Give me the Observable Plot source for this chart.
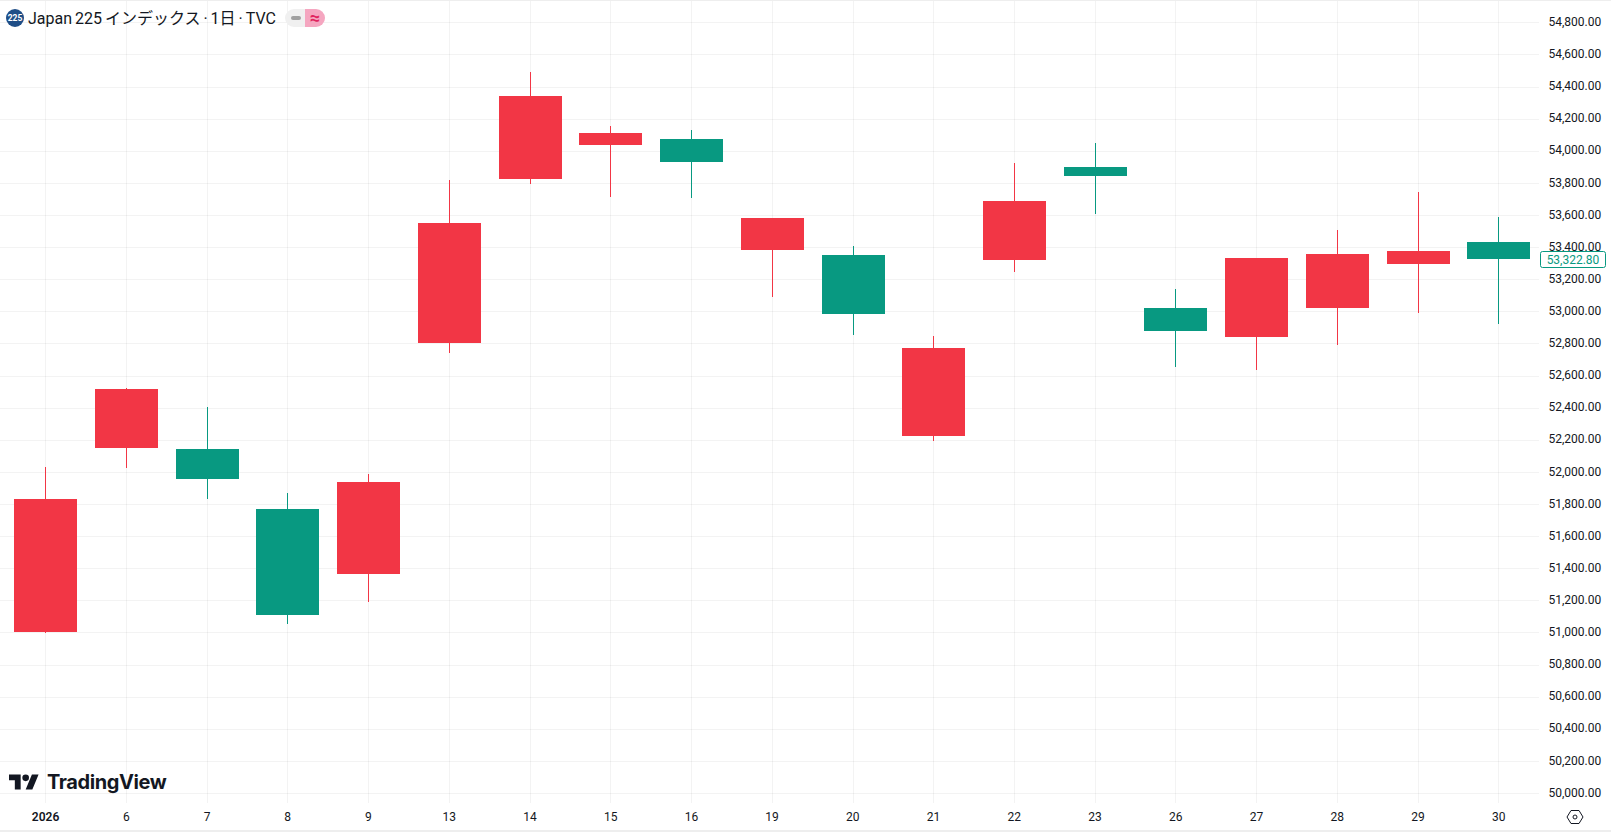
<!DOCTYPE html>
<html><head><meta charset="utf-8">
<script src="https://cdn.jsdelivr.net/npm/d3@7"></script>
<script src="https://cdn.jsdelivr.net/npm/@observablehq/plot@0.6"></script>
<style>
html,body{margin:0;padding:0;background:#fff;width:1611px;height:832px;overflow:hidden}
#wrap{position:relative;width:1611px;height:832px;font-family:Roboto,"Noto Sans CJK JP",sans-serif;color:#131722}
#chart svg{display:block}
.abs{position:absolute}
#frameTop{position:absolute;left:0;top:0;width:1611px;height:1px;background:#eeeeee}
#frameBottom{position:absolute;left:0;top:830px;width:1611px;height:2px;background:#eeeeee}
#title{left:28px;top:9px;font-size:16px;line-height:20px;white-space:nowrap;word-spacing:-1px}
#brand{left:47px;top:768px;font:700 20px/28px Inter,sans-serif;letter-spacing:-.4px;color:#131722}
</style></head><body>
<div id="wrap">
<div id="chart"></div>
<svg class="abs" style="left:6px;top:9px" width="18" height="18"><circle cx="9" cy="9" r="9" fill="#1f4e87"/><text x="9" y="12" text-anchor="middle" font-size="8.5" font-weight="700" fill="#fff" font-family="Roboto">225</text></svg>
<div id="title" class="abs">Japan 225 インデックス · 1日 · TVC</div>
<svg class="abs" style="left:285px;top:3px" width="40" height="30">
<path d="M20 6H9a9 9 0 0 0 0 18h11z" fill="#f0f0f0"/><path d="M20 6h11a9 9 0 0 1 0 18H20z" fill="#f5a6c0"/>
<rect x="6" y="13" width="10" height="4" rx="2" fill="#a0a0a0"/>
<text x="30" y="20.5" text-anchor="middle" font-size="18" font-weight="700" fill="#e0245e" font-family="Roboto">≈</text></svg>
<svg class="abs" style="left:9px;top:774px" width="30" height="16" viewBox="0 4 36 18"><path fill="#131722" d="M14 22H7V11H0V4h14v18zM28 22h-8l7.5-18h8L28 22z"/><circle cx="20" cy="8" r="4" fill="#131722"/></svg>
<div id="brand" class="abs">TradingView</div>
<svg class="abs" style="left:1566px;top:808px" width="18" height="18" fill="none" stroke="#131722" stroke-width="1"><path d="M5 2.5h8l4 6.5-4 6.5H5L1 9z"/><circle cx="9" cy="9" r="2"/></svg>
<div id="frameTop"></div><div id="frameBottom"></div>
</div>
<script>
const days = ["2026","6","7","8","9","13","14","15","16","19","20","21","22","23","26","27","28","29","30"];
const open  = [51003,52149,52142,51769,51364,52803,53824,54036,54073,53382,53351,52223,53320,53899,53021,52840,53021,53295,53432];
const high  = [52030,52522,52404,51868,51987,53818,54490,54154,54129,53581,53407,52846,53924,54048,53139,53332,53506,53743,53587];
const low   = [50996,52024,51831,51053,51190,52740,53793,53712,53706,53089,52852,52192,53245,53606,52653,52634,52790,52989,52921];
const close = [51831,52516,51956,51109,51937,53550,54341,54110,53930,53581,52983,52771,53687,53843,52877,53332,53357,53376,53322.8];
const priceTicks = [50000,50200,50400,50600,50800,51000,51200,51400,51600,51800,52000,52200,52400,52600,52800,53000,53200,53400,53600,53800,54000,54200,54400,54600,54800];
const lastPrice = 53322.8;
const UP = "#f23645", DOWN = "#089981";

const rows = days.map((d,i)=>({day:d,open:open[i],high:high[i],low:low[i],close:close[i],dir:close[i]>=open[i]?"up":"down"}));
const fmt = v => d3.format(",.2f")(v);
const gridStyle = {stroke:"#2e2e2e",strokeOpacity:0.06,shapeRendering:"crispEdges"};

const plot = Plot.plot({
  width:1611, height:832,
  marginLeft:0, marginRight:72, marginTop:0, marginBottom:29,
  style:{fontFamily:"Roboto,sans-serif",fontSize:"12px",color:"#131722",background:"transparent"},
  x:{type:"band",domain:days,paddingInner:0.21962,paddingOuter:0.14156,align:0.6231,round:false,label:null},
  y:{domain:[49937.7,54939],label:null},
  color:{domain:["up","down"],range:[UP,DOWN]},
  marks:[
    Plot.gridY(priceTicks,{...gridStyle}),
    Plot.gridX(days,{...gridStyle,dx:-0.5}),
    Plot.axisY(priceTicks,{anchor:"right",tickSize:0,tickPadding:9,tickFormat:fmt,fill:"#131722",label:null,dy:-0.7}),
    Plot.axisX(days.slice(1),{anchor:"bottom",tickSize:0,tickPadding:9,fill:"#131722",label:null,dx:-0.7}),
    Plot.axisX(days.slice(0,1),{anchor:"bottom",tickSize:0,tickPadding:9,fill:"#131722",fontWeight:600,label:null,dx:-0.7}),
    Plot.ruleX(rows,{x:"day",y1:"low",y2:"high",stroke:"dir",strokeWidth:1,dx:-0.5,shapeRendering:"crispEdges"}),
    Plot.barY(rows,{x:"day",y1:"open",y2:"close",fill:"dir",shapeRendering:"crispEdges"}),
    (index,scales)=>{
      const y = scales.y(lastPrice);
      const g = d3.create("svg:g");
      g.append("rect").attr("x",1540.5).attr("y",Math.round(y)-7.5).attr("width",65).attr("height",16).attr("rx",2)
        .attr("fill","#fff").attr("stroke",DOWN);
      g.append("text").attr("x",1573).attr("y",Math.round(y)+4.5).attr("text-anchor","middle").attr("fill",DOWN)
        .attr("font-size",12).text(fmt(lastPrice));
      return g.node();
    }
  ]
});
document.getElementById("chart").appendChild(plot);
</script>
</body></html>
